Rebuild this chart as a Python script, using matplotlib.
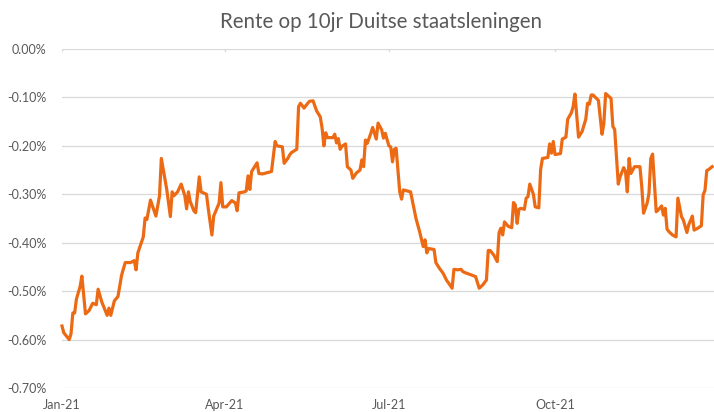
import matplotlib
matplotlib.use("Agg")
import matplotlib.pyplot as plt
import pandas as pd
from matplotlib.ticker import FuncFormatter

title = "Rente op 10jr Duitse staatsleningen"

dates = [
    "2021-01-01", "2021-01-02", "2021-01-05", "2021-01-06", "2021-01-07", "2021-01-08", "2021-01-09",
    "2021-01-11", "2021-01-12", "2021-01-14", "2021-01-16", "2021-01-18", "2021-01-20", "2021-01-21",
    "2021-01-23", "2021-01-26", "2021-01-27", "2021-01-28", "2021-01-30",
    "2021-02-01", "2021-02-03", "2021-02-05", "2021-02-08", "2021-02-10", "2021-02-11", "2021-02-12",
    "2021-02-15", "2021-02-16", "2021-02-17", "2021-02-19", "2021-02-22", "2021-02-24", "2021-02-25",
    "2021-02-28",
    "2021-03-02", "2021-03-03", "2021-03-04", "2021-03-06", "2021-03-08", "2021-03-10", "2021-03-11",
    "2021-03-12", "2021-03-13", "2021-03-15", "2021-03-16", "2021-03-18", "2021-03-19", "2021-03-22",
    "2021-03-23", "2021-03-25", "2021-03-26", "2021-03-29", "2021-03-30", "2021-03-31",
    "2021-04-02", "2021-04-05", "2021-04-07", "2021-04-08", "2021-04-09", "2021-04-12", "2021-04-13",
    "2021-04-14", "2021-04-15", "2021-04-16", "2021-04-19", "2021-04-20", "2021-04-22", "2021-04-27",
    "2021-04-29", "2021-04-30",
    "2021-05-03", "2021-05-04", "2021-05-06", "2021-05-07", "2021-05-08", "2021-05-11", "2021-05-12",
    "2021-05-13", "2021-05-15", "2021-05-16", "2021-05-18", "2021-05-20", "2021-05-22", "2021-05-24",
    "2021-05-25", "2021-05-26", "2021-05-27", "2021-05-28", "2021-05-31",
    "2021-06-01", "2021-06-02", "2021-06-03", "2021-06-04", "2021-06-05", "2021-06-07", "2021-06-08",
    "2021-06-10", "2021-06-11", "2021-06-13", "2021-06-15", "2021-06-16", "2021-06-17", "2021-06-18",
    "2021-06-19", "2021-06-21", "2021-06-22", "2021-06-24", "2021-06-25", "2021-06-27", "2021-06-28",
    "2021-06-29",
    "2021-07-01", "2021-07-02", "2021-07-03", "2021-07-04", "2021-07-05", "2021-07-07", "2021-07-08",
    "2021-07-09", "2021-07-11", "2021-07-13", "2021-07-16", "2021-07-18", "2021-07-20", "2021-07-21",
    "2021-07-22", "2021-07-23", "2021-07-26", "2021-07-27", "2021-07-29", "2021-07-31",
    "2021-08-02", "2021-08-03", "2021-08-05", "2021-08-06", "2021-08-08", "2021-08-10", "2021-08-11",
    "2021-08-13", "2021-08-16", "2021-08-18", "2021-08-19", "2021-08-20", "2021-08-22", "2021-08-24",
    "2021-08-25", "2021-08-26", "2021-08-28", "2021-08-30", "2021-08-31",
    "2021-09-01", "2021-09-02", "2021-09-03", "2021-09-05", "2021-09-07", "2021-09-08", "2021-09-09",
    "2021-09-10", "2021-09-11", "2021-09-12", "2021-09-14", "2021-09-15", "2021-09-16", "2021-09-17",
    "2021-09-19", "2021-09-20", "2021-09-22", "2021-09-23", "2021-09-24", "2021-09-27", "2021-09-28",
    "2021-09-29", "2021-09-30",
    "2021-10-01", "2021-10-04", "2021-10-05", "2021-10-07", "2021-10-08", "2021-10-10", "2021-10-11",
    "2021-10-12", "2021-10-14", "2021-10-16", "2021-10-18", "2021-10-19", "2021-10-20", "2021-10-21",
    "2021-10-22", "2021-10-25", "2021-10-27", "2021-10-28", "2021-10-29",
    "2021-11-01", "2021-11-02", "2021-11-03", "2021-11-05", "2021-11-06", "2021-11-08", "2021-11-09",
    "2021-11-10", "2021-11-11", "2021-11-12", "2021-11-14", "2021-11-17", "2021-11-18", "2021-11-19",
    "2021-11-21", "2021-11-22", "2021-11-23", "2021-11-24", "2021-11-26", "2021-11-27", "2021-11-29",
    "2021-11-30",
    "2021-12-01", "2021-12-02", "2021-12-03", "2021-12-05", "2021-12-07", "2021-12-08", "2021-12-10",
    "2021-12-11", "2021-12-13", "2021-12-14", "2021-12-16", "2021-12-17", "2021-12-19", "2021-12-21",
    "2021-12-22", "2021-12-23", "2021-12-24", "2021-12-25", "2021-12-27",
]

yields = [
    -0.572, -0.586, -0.600, -0.588, -0.545, -0.545, -0.516,
    -0.491, -0.469, -0.547, -0.540, -0.525, -0.528, -0.496,
    -0.522, -0.550, -0.535, -0.550, -0.520,
    -0.511, -0.467, -0.441, -0.441, -0.437, -0.456, -0.421,
    -0.388, -0.349, -0.352, -0.312, -0.345, -0.303, -0.226,
    -0.290,
    -0.346, -0.295, -0.303, -0.295, -0.279, -0.303, -0.330,
    -0.295, -0.315, -0.334, -0.338, -0.264, -0.295, -0.300,
    -0.330, -0.384, -0.345, -0.318, -0.276, -0.326,
    -0.326, -0.313, -0.318, -0.334, -0.297, -0.295, -0.293,
    -0.262, -0.290, -0.253, -0.235, -0.257, -0.258, -0.253,
    -0.191, -0.200,
    -0.202, -0.236, -0.226, -0.219, -0.214, -0.207, -0.119,
    -0.112, -0.122, -0.117, -0.108, -0.107, -0.128, -0.140,
    -0.163, -0.200, -0.173, -0.183, -0.183,
    -0.176, -0.194, -0.185, -0.207, -0.201, -0.196, -0.243,
    -0.250, -0.267, -0.256, -0.250, -0.229, -0.243, -0.188,
    -0.195, -0.174, -0.162, -0.186, -0.153, -0.167, -0.184,
    -0.174,
    -0.200, -0.202, -0.233, -0.207, -0.205, -0.295, -0.310,
    -0.291, -0.293, -0.295, -0.350, -0.377, -0.408, -0.394,
    -0.421, -0.412, -0.414, -0.441, -0.453, -0.463,
    -0.478, -0.483, -0.494, -0.455, -0.456, -0.455, -0.460,
    -0.463, -0.467, -0.470, -0.482, -0.494, -0.487, -0.477,
    -0.416, -0.416, -0.425, -0.439, -0.379,
    -0.370, -0.384, -0.357, -0.366, -0.369, -0.317, -0.322,
    -0.360, -0.331, -0.329, -0.331, -0.308, -0.305, -0.279,
    -0.300, -0.326, -0.328, -0.249, -0.226, -0.224, -0.196,
    -0.215, -0.191,
    -0.218, -0.216, -0.186, -0.182, -0.145, -0.132, -0.119,
    -0.093, -0.182, -0.170, -0.145, -0.112, -0.114, -0.095,
    -0.095, -0.106, -0.176, -0.154, -0.092,
    -0.102, -0.160, -0.166, -0.279, -0.264, -0.245, -0.253,
    -0.295, -0.226, -0.257, -0.243, -0.243, -0.284, -0.339,
    -0.318, -0.298, -0.226, -0.217, -0.336, -0.333, -0.324,
    -0.343,
    -0.329, -0.372, -0.377, -0.384, -0.388, -0.308, -0.346,
    -0.353, -0.379, -0.363, -0.345, -0.374, -0.370, -0.365,
    -0.301, -0.292, -0.251, -0.249, -0.243,
]

tick_dates = ["2021-01-01", "2021-04-01", "2021-07-01", "2021-10-01"]
tick_labels = ["Jan-21", "Apr-21", "Jul-21", "Oct-21"]
y_ticks = [0.0, -0.1, -0.2, -0.3, -0.4, -0.5, -0.6, -0.7]

plt.rcParams["font.family"] = ["Lato", "DejaVu Sans"]

fig = plt.figure(figsize=(7.14, 4.12), dpi=100)
ax = fig.add_axes([62 / 714, 1 - 388 / 412, 1 - 62 / 714, (388 - 49) / 412])

x = pd.to_datetime(dates)
ax.plot(x, yields, color="#ED6A14", lw=2.3, solid_joinstyle="round", zorder=3, clip_on=False)

ax.set_xlim(pd.Timestamp("2021-01-01"), pd.Timestamp("2021-12-28"))
ax.set_ylim(-0.7, 0.0)
ax.set_yticks(y_ticks)
ax.yaxis.set_major_formatter(FuncFormatter(lambda v, p: f"{v:.2f}%"))
ax.set_xticks(pd.to_datetime(tick_dates))
ax.set_xticklabels(tick_labels)

ax.grid(axis="y", color="#D9D9D9", lw=0.9)
ax.set_axisbelow(True)
for s in ax.spines.values():
    s.set_visible(False)

ax.tick_params(axis="y", length=0, labelsize=9, labelcolor="#595959", pad=11)
ax.tick_params(axis="x", length=0, labelsize=9, labelcolor="#595959", pad=8)

# small category tick marks on the zero axis line
for td in tick_dates:
    ax.plot([pd.Timestamp(td)] * 2, [0.0, -0.005], color="#D9D9D9", lw=0.9, zorder=2)

fig.text(381 / 714, 1 - 22 / 412, title, ha="center", va="center", fontsize=14.8, color="#595959")

fig.savefig("out.png", dpi=100)
